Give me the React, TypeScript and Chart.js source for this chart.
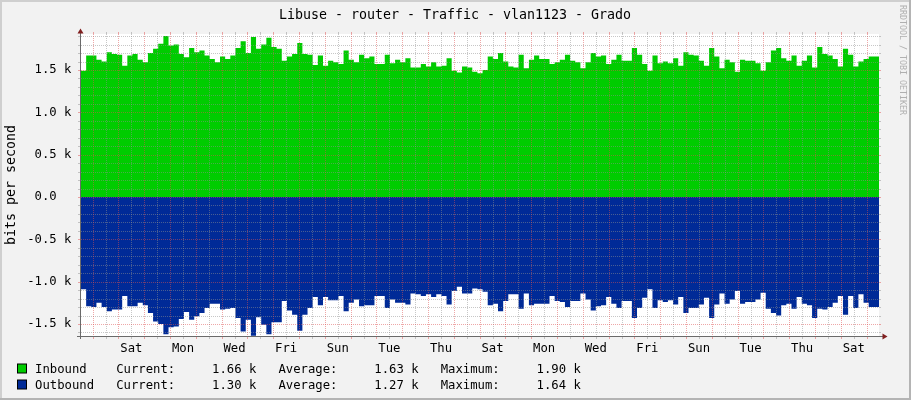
import React, { useEffect, useRef } from "react";
import { Chart, registerables } from "chart.js";

Chart.register(...registerables);

// ---- data (k bits per second), one value per consolidated step ----
const INBOUND = [
  1.52, 1.49, 1.67, 1.67, 1.62, 1.60, 1.71, 1.69, 1.68, 1.55,
  1.67, 1.69, 1.62, 1.59, 1.70, 1.75, 1.81, 1.90, 1.79, 1.80,
  1.69, 1.65, 1.76, 1.71, 1.73, 1.67, 1.63, 1.59, 1.66, 1.63,
  1.67, 1.76, 1.84, 1.70, 1.89, 1.75, 1.80, 1.88, 1.77,
  1.75, 1.61, 1.66, 1.69, 1.82, 1.69, 1.68, 1.56, 1.67, 1.55,
  1.61, 1.59, 1.57, 1.73, 1.62, 1.59, 1.68, 1.64, 1.66, 1.57,
  1.57, 1.68, 1.58, 1.62, 1.59, 1.64, 1.53, 1.53, 1.57, 1.54,
  1.59, 1.54, 1.55, 1.64, 1.49, 1.47, 1.54, 1.53, 1.48,
  1.46, 1.50, 1.66, 1.63, 1.70, 1.60, 1.54, 1.53, 1.68, 1.52,
  1.62, 1.67, 1.63, 1.63, 1.57, 1.59, 1.62, 1.68, 1.61, 1.59,
  1.52, 1.59, 1.70, 1.66, 1.67, 1.57, 1.62, 1.68, 1.61, 1.61,
  1.76, 1.68, 1.57, 1.49, 1.67, 1.58, 1.60, 1.58, 1.64,
  1.55, 1.71, 1.68, 1.67, 1.61, 1.55, 1.76, 1.66, 1.52, 1.62,
  1.59, 1.48, 1.62, 1.61, 1.61, 1.58, 1.49, 1.59, 1.73, 1.76,
  1.64, 1.61, 1.67, 1.55, 1.61, 1.67, 1.53, 1.77, 1.69, 1.67,
  1.63, 1.54, 1.75, 1.68, 1.54, 1.60, 1.63, 1.66,
];

const OUTBOUND = [
  1.11, 1.09, 1.29, 1.30, 1.25, 1.30, 1.35, 1.33, 1.33, 1.17,
  1.29, 1.29, 1.25, 1.28, 1.37, 1.47, 1.50, 1.62, 1.54, 1.53,
  1.44, 1.36, 1.45, 1.41, 1.37, 1.31, 1.26, 1.26, 1.33, 1.32,
  1.31, 1.43, 1.59, 1.45, 1.64, 1.42, 1.51, 1.62, 1.48,
  1.48, 1.23, 1.34, 1.39, 1.58, 1.39, 1.31, 1.18, 1.28, 1.18,
  1.22, 1.22, 1.17, 1.35, 1.25, 1.21, 1.29, 1.28, 1.28, 1.17,
  1.17, 1.31, 1.21, 1.25, 1.25, 1.27, 1.14, 1.15, 1.17, 1.15,
  1.18, 1.15, 1.17, 1.27, 1.11, 1.06, 1.14, 1.14, 1.08,
  1.09, 1.12, 1.28, 1.26, 1.35, 1.23, 1.15, 1.15, 1.32, 1.14,
  1.28, 1.26, 1.26, 1.26, 1.17, 1.23, 1.24, 1.30, 1.23, 1.23,
  1.14, 1.21, 1.34, 1.29, 1.28, 1.18, 1.26, 1.31, 1.23, 1.23,
  1.43, 1.31, 1.19, 1.09, 1.31, 1.22, 1.24, 1.22, 1.27,
  1.18, 1.37, 1.31, 1.31, 1.27, 1.19, 1.43, 1.27, 1.14, 1.26,
  1.21, 1.11, 1.26, 1.24, 1.24, 1.21, 1.13, 1.32, 1.37, 1.40,
  1.28, 1.26, 1.32, 1.18, 1.26, 1.28, 1.43, 1.32, 1.33, 1.30,
  1.25, 1.17, 1.39, 1.17, 1.31, 1.15, 1.25, 1.30,
];

const X_TICK_LABELS = ["Sat", "Mon", "Wed", "Fri", "Sun", "Tue", "Thu", "Sat", "Mon", "Wed", "Fri", "Sun", "Tue", "Thu", "Sat"];
const Y_TICKS = [-1.5, -1.0, -0.5, 0, 0.5, 1.0, 1.5];
const Y_TICK_LABELS = ["-1.5 k", "-1.0 k", "-0.5 k", "0.0  ", "0.5 k", "1.0 k", "1.5 k"];

const TITLE = "Libuse - router - Traffic - vlan1123 - Grado";
const Y_TITLE = "bits per second";
const WATERMARK = "RRDTOOL / TOBI OETIKER";
const SERIES_NAMES = ["Inbound", "Outbound"];
const SERIES_COLORS = ["#00CC00", "#002A97"];
const CURRENT = ["1.66 k", "1.30 k"];
const AVERAGE = ["1.63 k", "1.27 k"];
const MAXIMUM = ["1.90 k", "1.64 k"];

// ---- time geometry (days) ----
const STEP_DAYS = 0.19955;
const X_MAX = INBOUND.length * STEP_DAYS;
const FIRST_MIDNIGHT = 0.452;
const FIRST_LABEL_DAY = 1; // day index (after first midnight) of first label
const Y_MIN = -1.642;
const Y_MAX = 1.925;

const MONO = '"DejaVu Sans Mono", monospace';

function toPoints(arr: number[], sign: number) {
  const pts = arr.map((v, i) => ({ x: i * STEP_DAYS, y: sign * v }));
  pts.push({ x: arr.length * STEP_DAYS, y: sign * arr[arr.length - 1] });
  return pts;
}

const rrdPlugin = {
  id: "rrdLook",
  beforeDraw(chart: any) {
    const { ctx, width, height, chartArea: a } = chart;
    ctx.save();
    ctx.fillStyle = "#f2f2f2";
    ctx.fillRect(0, 0, width, height);
    ctx.fillStyle = "#cfcfcf";
    ctx.fillRect(0, 0, width, 2);
    ctx.fillRect(0, 0, 2, height);
    ctx.fillStyle = "#b4b4b4";
    ctx.fillRect(0, height - 2, width, 2);
    ctx.fillRect(width - 2, 0, 2, height);
    ctx.fillStyle = "#ffffff";
    ctx.fillRect(a.left, a.top, a.right - a.left, a.bottom - a.top);
    ctx.restore();
  },
  afterDatasetsDraw(chart: any) {
    const { ctx, chartArea: a } = chart;
    const xs = chart.scales.x;
    const ys = chart.scales.y;
    const L = a.left, R = a.right, T = a.top, B = a.bottom;
    const GRID = "rgba(143,143,143,0.5)";
    const MGRID = "rgba(222,79,79,0.5)";
    ctx.save();
    ctx.lineWidth = 1;

    const hLine = (v: number, col: string) => {
      const py = Math.round(ys.getPixelForValue(v)) + 0.5;
      ctx.strokeStyle = col;
      ctx.setLineDash([]);
      ctx.beginPath();
      ctx.moveTo(L - 3, py); ctx.lineTo(L, py);
      ctx.moveTo(R, py); ctx.lineTo(R + 2, py);
      ctx.stroke();
      ctx.setLineDash([1, 1]);
      ctx.beginPath();
      ctx.moveTo(L, py); ctx.lineTo(R, py);
      ctx.stroke();
    };
    const vLine = (d: number, col: string) => {
      const px = Math.round(xs.getPixelForValue(d)) + 0.5;
      ctx.strokeStyle = col;
      ctx.setLineDash([]);
      ctx.beginPath();
      ctx.moveTo(px, B); ctx.lineTo(px, B + 3);
      ctx.moveTo(px, T - 2); ctx.lineTo(px, T);
      ctx.stroke();
      ctx.setLineDash([1, 1]);
      ctx.beginPath();
      ctx.moveTo(px, T); ctx.lineTo(px, B);
      ctx.stroke();
    };

    // minor grid
    for (let k = -16; k <= 19; k++) {
      if (k % 5 !== 0) hLine(k / 10, GRID);
    }
    for (let d = FIRST_MIDNIGHT - 0.5; d < X_MAX; d += 1) {
      if (d > 0) vLine(d, GRID);
    }
    // major grid
    for (let k = -15; k <= 15; k += 5) hLine(k / 10, MGRID);
    for (let d = FIRST_MIDNIGHT; d < X_MAX; d += 1) vLine(d, MGRID);

    // axes
    ctx.setLineDash([]);
    ctx.strokeStyle = "#6a6a6a";
    ctx.beginPath();
    ctx.moveTo(L - 0.5, B + 3); ctx.lineTo(L - 0.5, T - 1);
    ctx.moveTo(L - 4, B + 0.5); ctx.lineTo(R + 4, B + 0.5);
    ctx.stroke();
    ctx.fillStyle = "#801f1f";
    ctx.beginPath();
    ctx.moveTo(L - 0.5, T - 5.5); ctx.lineTo(L - 3.5, T - 0.5); ctx.lineTo(L + 2.5, T - 0.5);
    ctx.closePath(); ctx.fill();
    ctx.beginPath();
    ctx.moveTo(R + 8.5, B + 0.5); ctx.lineTo(R + 3.5, B - 2.5); ctx.lineTo(R + 3.5, B + 3.5);
    ctx.closePath(); ctx.fill();
    ctx.restore();
  },
  afterDraw(chart: any) {
    const { ctx } = chart;
    ctx.save();
    ctx.fillStyle = "#000";
    // title
    ctx.font = `13.3px ${MONO}`;
    ctx.textAlign = "center";
    ctx.textBaseline = "alphabetic";
    ctx.fillText(TITLE, 455, 19);
    // vertical unit label
    ctx.save();
    ctx.translate(15, 185);
    ctx.rotate(-Math.PI / 2);
    ctx.font = `13.3px ${MONO}`;
    ctx.fillText(Y_TITLE, 0, 0);
    ctx.restore();
    // legend
    ctx.font = `12.25px ${MONO}`;
    ctx.textAlign = "left";
    SERIES_NAMES.forEach((name, i) => {
      const base = 372.5 + i * 16;
      ctx.fillStyle = "#000";
      ctx.fillRect(17, base - 9, 10, 10);
      ctx.fillStyle = SERIES_COLORS[i];
      ctx.fillRect(18, base - 8, 8, 8);
      ctx.fillStyle = "#000";
      const line = `${name.padEnd(11)}Current:     ${CURRENT[i]}   Average:     ${AVERAGE[i]}   Maximum:     ${MAXIMUM[i]}`;
      ctx.fillText(line, 35, base);
    });
    // watermark
    ctx.save();
    ctx.translate(899.5, 5);
    ctx.rotate(Math.PI / 2);
    ctx.font = `8.3px ${MONO}`;
    ctx.fillStyle = "#b0b0b0";
    ctx.textAlign = "left";
    ctx.textBaseline = "alphabetic";
    ctx.fillText(WATERMARK, 0, 0);
    ctx.restore();
    ctx.restore();
  },
};

export default function App() {
  const ref = useRef<HTMLCanvasElement>(null);
  useEffect(() => {
    const canvas = ref.current;
    if (!canvas) return;
    const chart = new Chart(canvas, {
      type: "line",
      data: {
        datasets: [
          {
            label: SERIES_NAMES[0],
            data: toPoints(INBOUND, 1),
            stepped: "after",
            fill: "origin",
            backgroundColor: SERIES_COLORS[0],
            borderColor: "rgba(0,0,0,0)",
            borderWidth: 0,
            pointRadius: 0,
          },
          {
            label: SERIES_NAMES[1],
            data: toPoints(OUTBOUND, -1),
            stepped: "after",
            fill: "origin",
            backgroundColor: SERIES_COLORS[1],
            borderColor: "rgba(0,0,0,0)",
            borderWidth: 0,
            pointRadius: 0,
          },
        ],
      },
      options: {
        animation: false,
        responsive: false,
        devicePixelRatio: 1,
        layout: { padding: { top: 34, right: 32, left: 0, bottom: 0 } },
        plugins: { legend: { display: false }, tooltip: { enabled: false }, title: { display: false } },
        events: [],
        scales: {
          x: {
            type: "linear",
            min: 0,
            max: X_MAX,
            grid: { display: false, drawTicks: false },
            border: { display: false },
            afterBuildTicks: (scale: any) => {
              scale.ticks = X_TICK_LABELS.map((_, i) => ({
                value: FIRST_MIDNIGHT + FIRST_LABEL_DAY + 0.5 + 2 * i,
              }));
            },
            afterFit: (scale: any) => {
              scale.height = 64;
            },
            ticks: {
              autoSkip: false,
              maxRotation: 0,
              minRotation: 0,
              padding: 5,
              color: "#000",
              font: { family: MONO, size: 12.25 },
              callback: (_v: any, i: number) => X_TICK_LABELS[i],
            },
          },
          y: {
            type: "linear",
            min: Y_MIN,
            max: Y_MAX,
            grid: { display: false, drawTicks: false },
            border: { display: false },
            afterBuildTicks: (scale: any) => {
              scale.ticks = Y_TICKS.map((v) => ({ value: v }));
            },
            afterFit: (scale: any) => {
              scale.width = 81;
            },
            ticks: {
              autoSkip: false,
              padding: 9.5,
              color: "#000",
              font: { family: MONO, size: 12.25 },
              callback: (_v: any, i: number) => Y_TICK_LABELS[i],
            },
          },
        },
      },
      plugins: [rrdPlugin],
    } as any);
    return () => chart.destroy();
  }, []);

  return (
    <div style={{ position: "fixed", left: 0, top: 0, width: 911, height: 400 }}>
      <canvas ref={ref} width={911} height={400} style={{ display: "block", width: 911, height: 400 }} />
    </div>
  );
}
